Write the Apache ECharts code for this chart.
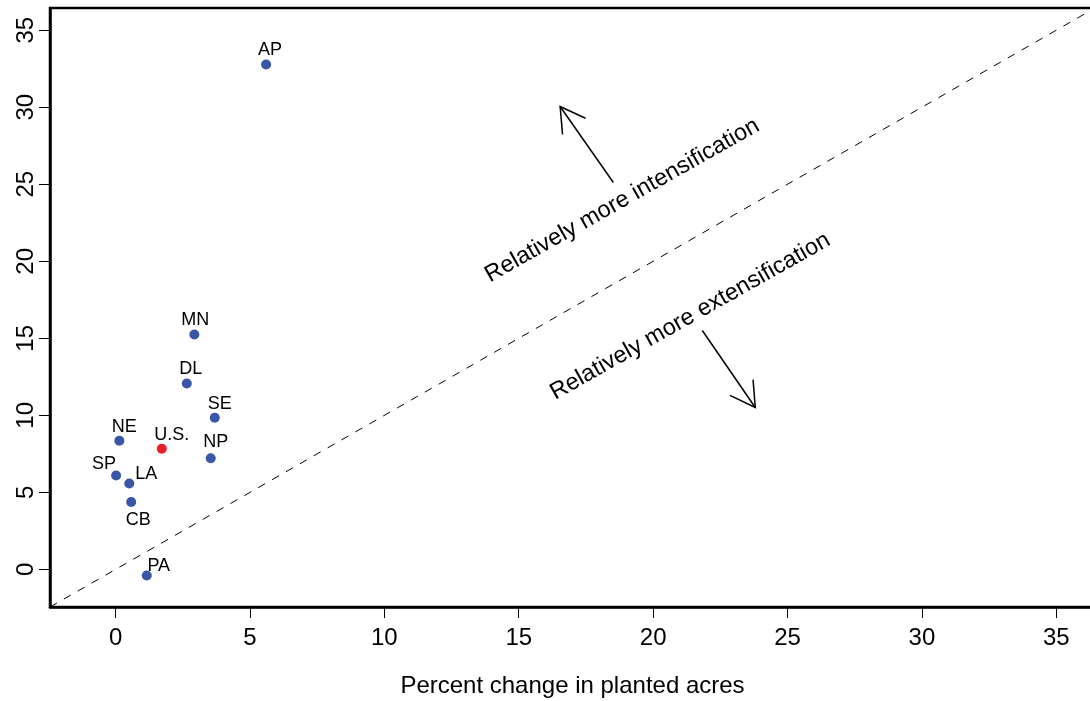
<!DOCTYPE html>
<html>
<head>
<meta charset="utf-8">
<script src="https://cdn.jsdelivr.net/npm/echarts@6/dist/echarts.min.js"></script>
<style>
  html, body { margin: 0; padding: 0; background: #fff; }
  #main { width: 1090px; height: 701px; }
</style>
</head>
<body>
<div id="main"></div>
<script>
var myChart = echarts.init(document.getElementById('main'));

// regions and values
let regions = ['AP', 'MN', 'DL', 'SE', 'NE', 'U.S.', 'NP', 'SP', 'LA', 'CB', 'PA'],
    xData = [5.60, 2.93, 2.65, 3.69, 0.14, 1.72, 3.54, 0.02, 0.51, 0.58, 1.16],
    yData = [32.77, 15.25, 12.07, 9.84, 8.35, 7.83, 7.22, 6.10, 5.58, 4.37, -0.39];

let tickValues = [0, 5, 10, 15, 20, 25, 30, 35];
let axisMin = -2.44, axisMax = 36.44;

// where each label sits relative to its point (pixels)
let labelOffsets = [[4, -15], [1, -14], [4, -14], [5, -14], [5, -14], [10, -14],
                    [5, -16], [-12, -11], [17, -9], [7, 18], [12, -9]];

let pointData = regions.map(function (r, i) {
  return {
    name: r,
    value: [xData[i], yData[i]],
    itemStyle: { color: r === 'U.S.' ? '#e8202a' : '#3a56a8', opacity: 1 },
    label: { offset: labelOffsets[i] }
  };
});

let font = 'Liberation Sans, Arial, Helvetica, sans-serif';

var option = {
  animation: false,
  grid: {
    left: 50, top: 8, right: -5, bottom: 94,
    outerBoundsMode: 'none', containLabel: false,
    show: true, borderColor: '#000', borderWidth: 2.5
  },
  xAxis: {
    type: 'value', min: axisMin, max: axisMax,
    name: 'Percent change in planted acres',
    nameLocation: 'middle', nameGap: 67,
    nameTextStyle: { color: '#000', fontSize: 24, fontFamily: font },
    splitLine: { show: false },
    axisLine: { show: true, onZero: false, lineStyle: { color: '#000', width: 2.5 } },
    axisTick: { show: true, length: 11, lineStyle: { color: '#000', width: 1 }, customValues: tickValues },
    axisLabel: { color: '#000', fontSize: 24, fontFamily: font, margin: 19, customValues: tickValues }
  },
  yAxis: {
    type: 'value', min: axisMin, max: axisMax,
    splitLine: { show: false },
    axisLine: { show: true, onZero: false, lineStyle: { color: '#000', width: 2.5 } },
    axisTick: { show: true, length: 11, lineStyle: { color: '#000', width: 1 }, customValues: tickValues },
    axisLabel: { color: '#000', fontSize: 24, fontFamily: font, margin: 12, rotate: 90, customValues: tickValues }
  },
  series: [
    {
      type: 'line',
      data: [[axisMin, axisMin], [axisMax, axisMax]],
      symbol: 'none',
      lineStyle: { color: '#000', width: 1, type: [8, 8] },
      silent: true,
      z: 1
    },
    {
      type: 'scatter',
      data: pointData,
      symbolSize: 10,
      label: {
        show: true, position: 'inside',
        formatter: '{b}',
        color: '#000', opacity: 1, fontSize: 18, fontFamily: font
      },
      z: 3
    }
  ]
};
myChart.setOption(option);

// annotations: rotated text and open arrows, anchored to data coordinates
let notes = [
  { text: 'Relatively more intensification', at: [18.85, 23.95] },
  { text: 'Relatively more extensification', at: [21.38, 16.42] }
];
let arrows = [
  { from: [18.52, 25.11], to: [16.54, 30.05] },
  { from: [21.83, 15.51], to: [23.80, 10.51] }
];

function px(p) { return myChart.convertToPixel({ gridIndex: 0 }, p); }

let angle = 29.4 * Math.PI / 180;
let elements = [];
notes.forEach(function (n) {
  let p = px(n.at);
  elements.push({
    type: 'text', x: p[0], y: p[1], rotation: angle,
    style: { text: n.text, fill: '#000', fontSize: 23.5, fontFamily: font, align: 'center', verticalAlign: 'middle' }
  });
});
arrows.forEach(function (a) {
  let s = px(a.from), t = px(a.to);
  let th = Math.atan2(t[1] - s[1], t[0] - s[0]);
  let hl = 28, ha = Math.PI / 6;
  let h1 = [t[0] - hl * Math.cos(th - ha), t[1] - hl * Math.sin(th - ha)];
  let h2 = [t[0] - hl * Math.cos(th + ha), t[1] - hl * Math.sin(th + ha)];
  elements.push({ type: 'line', shape: { x1: s[0], y1: s[1], x2: t[0], y2: t[1] }, style: { stroke: '#000', lineWidth: 1.5 } });
  elements.push({ type: 'polyline', shape: { points: [h1, t, h2] }, style: { stroke: '#000', lineWidth: 1.5, fill: null } });
});
myChart.setOption({ graphic: elements });
</script>
</body>
</html>
